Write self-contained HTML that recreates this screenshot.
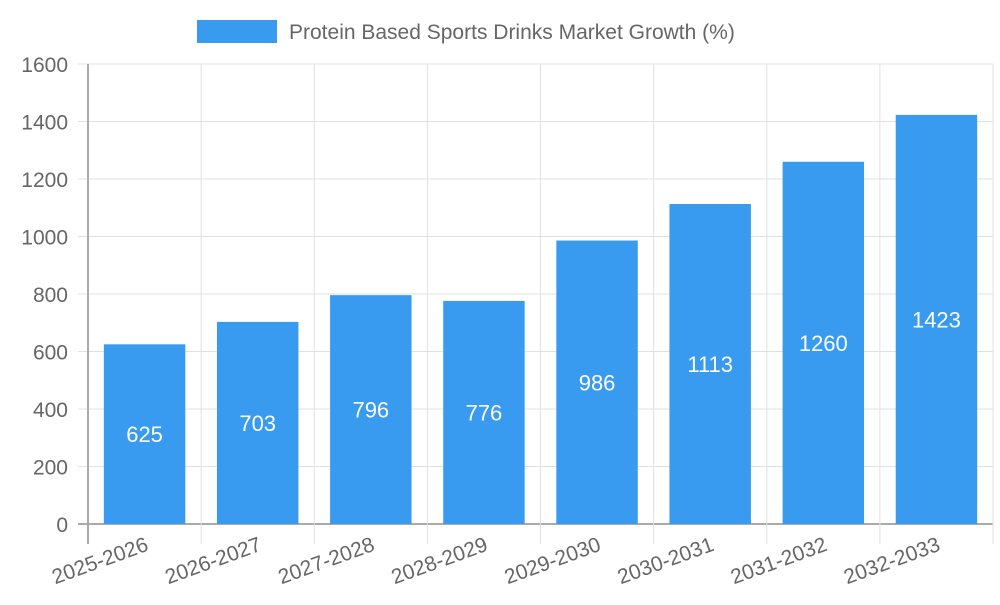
<!DOCTYPE html>
<html><head><meta charset="utf-8"><style>
body{margin:0;background:#fff;width:1000px;height:600px;overflow:hidden}
svg text{font-family:"Liberation Sans",sans-serif;}
</style></head><body>
<svg id="chart" width="1000" height="600" xmlns="http://www.w3.org/2000/svg">
<g>
<rect x="197" y="20" width="80" height="23" fill="#389bef"/>
<text x="289" y="39" font-size="21" fill="#666">Protein Based Sports Drinks Market Growth (%)</text>
</g>
<g id="grid"></g><g id="bars"></g><g id="labels"></g>
</svg>
<script>
const categories=["2025-2026","2026-2027","2027-2028","2028-2029","2029-2030","2030-2031","2031-2032","2032-2033"];
const values=[625,703,796,776,986,1113,1260,1423];
const yTicks=[0,200,400,600,800,1000,1200,1400,1600];
const NS="http://www.w3.org/2000/svg";
const L=88,R=993,T=64,B=524,YMAX=1600;
const y=v=>B-(v/YMAX)*(B-T);
const bw=(R-L)/categories.length;
const x=i=>L+bw*i;
function mk(tag,attrs,parent){const e=document.createElementNS(NS,tag);for(const k in attrs)e.setAttribute(k,attrs[k]);parent.appendChild(e);return e;}
const grid=document.getElementById('grid'),bars=document.getElementById('bars'),labels=document.getElementById('labels');
yTicks.forEach(t=>{
  const ln=mk('line',{x1:78,x2:R,y1:y(t),y2:y(t),stroke:t===0?'#aaa':'#e0e0e0','stroke-width':t===0?2:1},grid);
  
  
  const tx=mk('text',{x:68,y:y(t)+8,'text-anchor':'end','font-size':21,fill:'#666'},grid);
  tx.textContent=t;
  
  
});
for(let i=0;i<=categories.length;i++){
  const ln=mk('line',{x1:x(i),x2:x(i),y1:T,y2:544,stroke:i===0?'#aaa':'#e0e0e0','stroke-width':i===0?2:1},grid);
  
  
}
categories.forEach((c,i)=>{
  const cx=x(i)+bw/2,w=bw*0.72;
  const r=mk('rect',{x:cx-w/2,y:y(values[i]),width:w,height:B-y(values[i]),fill:'#389bef'},bars);
  
  
  const v=mk('text',{x:cx,y:(y(values[i])+B)/2+8,'text-anchor':'middle','font-size':22,fill:'#fff'},labels);
  v.textContent=values[i];
  
  
  const xl=mk('text',{x:cx+5,y:550,'text-anchor':'end','font-size':21,fill:'#666',transform:`rotate(-20 ${cx+5} 550)`},labels);
  xl.textContent=c;
  
  
});
</script>
</body></html>
